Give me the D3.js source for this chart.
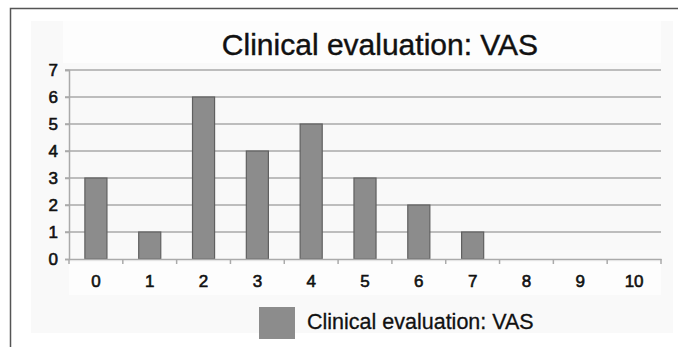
<!DOCTYPE html>
<html><head><meta charset="utf-8">
<script src="https://cdn.jsdelivr.net/npm/d3@7"></script>
<style>body{margin:0;background:#fff}svg{display:block}text{font-family:"Liberation Sans",Arial,sans-serif}</style>
</head><body>
<script>
const categories = ["0","1","2","3","4","5","6","7","8","9","10"];
const values = [3,1,6,4,5,3,2,1,0,0,0];
const yTicks = [0,1,2,3,4,5,6,7];
const title = "Clinical evaluation: VAS";
const seriesName = "Clinical evaluation: VAS";

const W = 678, H = 347;
const svg = d3.select("body").append("svg").attr("width", W).attr("height", H);

// faint panel backgrounds
svg.append("rect").attr("x", 31).attr("y", 21).attr("width", 642).attr("height", 312).attr("fill", "#f9f9f9");
svg.append("rect").attr("x", 63).attr("y", 21).attr("width", 598).attr("height", 42).attr("fill", "#fdfdfd");
svg.append("rect").attr("x", 69).attr("y", 262).attr("width", 592).attr("height", 33).attr("fill", "#fdfdfd");

// outer frame
svg.append("path").attr("d", `M10.5,${H} V8.5 H${W}`).attr("fill", "none").attr("stroke", "#555").attr("stroke-width", 1.5);

const x = d3.scaleBand().domain(categories).range([69, 661]).paddingInner(0).paddingOuter(0);
const y = d3.scaleLinear().domain([0, 7]).range([259, 70]);

// gridlines
svg.append("g").selectAll("line").data(yTicks.filter(d => d > 0)).join("line")
  .attr("x1", 65).attr("x2", 661)
  .attr("y1", d => y(d)).attr("y2", d => y(d))
  .attr("stroke", "#a8a8a8").attr("stroke-width", 1.6);

// bars
const bw = x.bandwidth() * 0.41;
svg.append("g").selectAll("rect").data(values).join("rect")
  .attr("x", (d, i) => x(categories[i]) + x.bandwidth() / 2 - bw / 2)
  .attr("y", d => y(d))
  .attr("width", bw)
  .attr("height", d => y(0) - y(d))
  .attr("fill", "#8c8c8c").attr("stroke", "#606060").attr("stroke-width", 1.2);

// y axis
const yAxis = d3.axisLeft(y).tickValues(yTicks).tickSize(4).tickFormat(d3.format("d"));
const gy = svg.append("g").attr("transform", "translate(69,0)").call(yAxis);
gy.select(".domain").attr("stroke", "#aaa").attr("stroke-width", 1.5);
gy.selectAll(".tick line").attr("stroke", "#aaa").attr("stroke-width", 1.5);
gy.selectAll(".tick text").attr("x", -11).attr("font-size", 17).attr("fill", "#111")
  .attr("stroke", "#111").attr("stroke-width", 0.6)
  .attr("font-family", "'Liberation Sans',Arial,sans-serif");

// x axis
const xAxis = d3.axisBottom(x).tickSize(0).tickPadding(16);
const gx = svg.append("g").attr("transform", `translate(0,${y(0)})`).call(xAxis);
gx.select(".domain").attr("stroke", "#aaa").attr("stroke-width", 1.5);
gx.selectAll(".tick text").attr("font-size", 17).attr("fill", "#111")
  .attr("stroke", "#111").attr("stroke-width", 0.6)
  .attr("font-family", "'Liberation Sans',Arial,sans-serif");
// boundary tick marks
const bounds = categories.map(c => x(c)).concat([x.range()[1]]);
svg.append("g").selectAll("line").data(bounds).join("line")
  .attr("x1", d => d).attr("x2", d => d)
  .attr("y1", y(0)).attr("y2", y(0) + 5)
  .attr("stroke", "#aaa").attr("stroke-width", 1.5);

// title
svg.append("text").attr("x", 380).attr("y", 55).attr("text-anchor", "middle")
  .attr("font-size", 30).attr("fill", "#111").attr("stroke", "#111").attr("stroke-width", 0.4).text(title);

// legend
svg.append("rect").attr("x", 259).attr("y", 307).attr("width", 36).attr("height", 32).attr("fill", "#8c8c8c");
svg.append("text").attr("x", 307).attr("y", 329).attr("font-size", 21.5).attr("fill", "#111")
  .attr("stroke", "#111").attr("stroke-width", 0.3).text(seriesName);
</script>
</body></html>
